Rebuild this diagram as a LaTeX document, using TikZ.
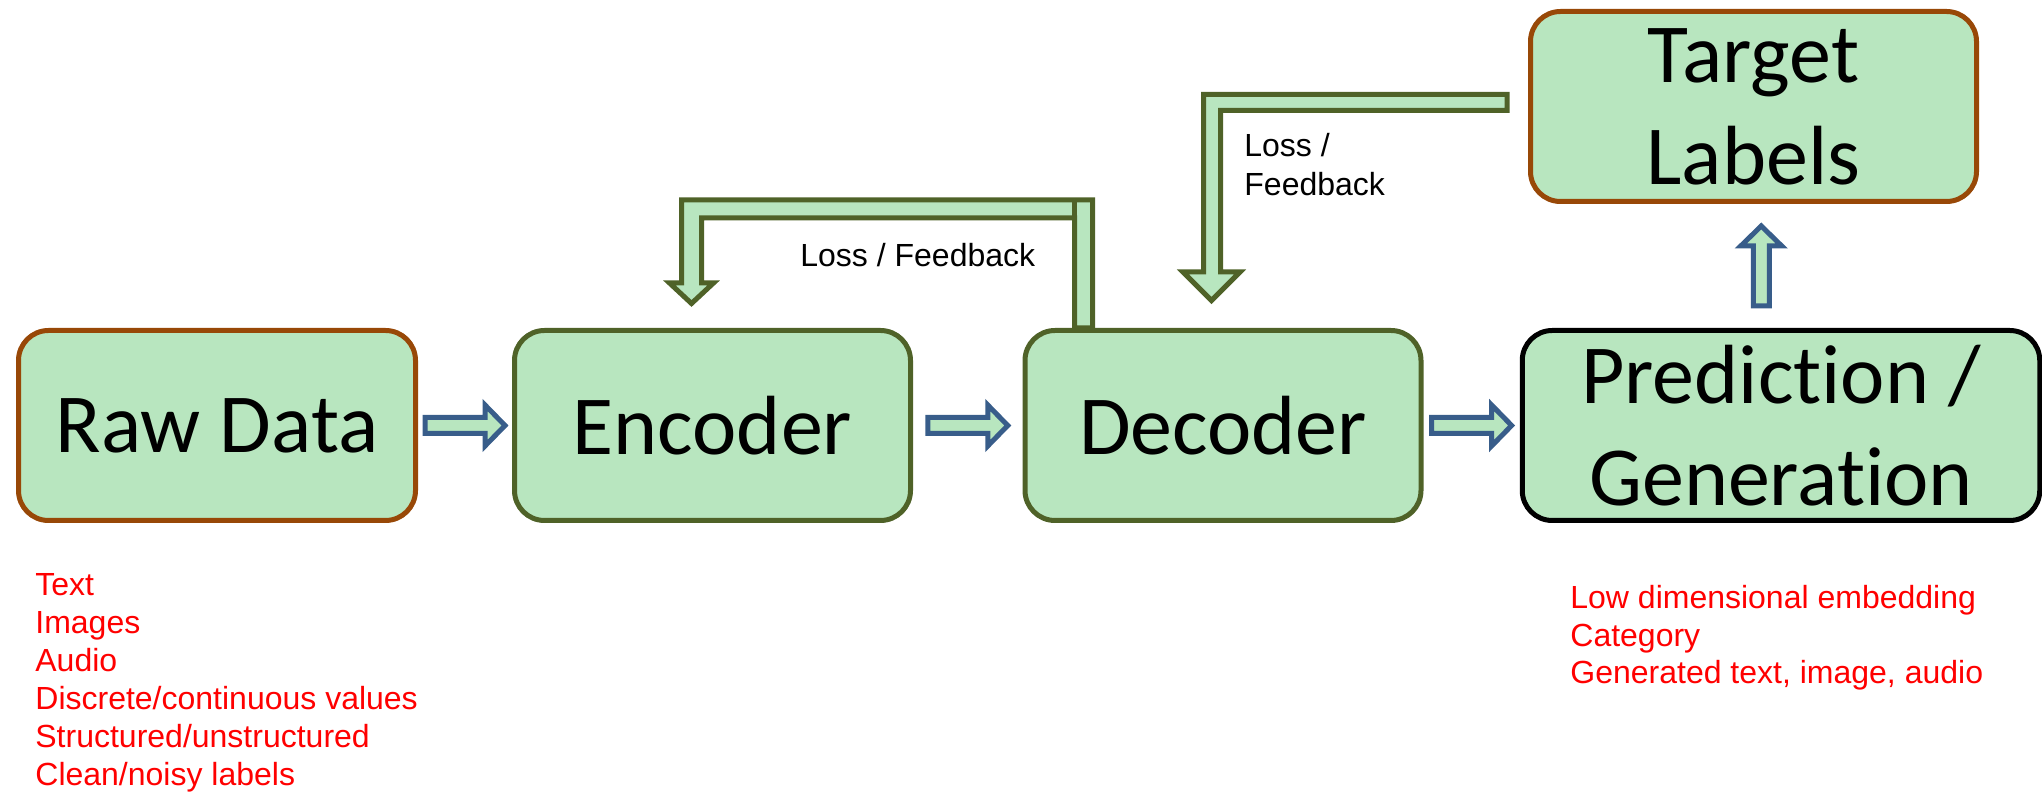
\documentclass[tikz,border=0pt]{standalone}
\usepackage{fontspec}
\setmainfont{Carlito}[Ligatures=NoCommon]
\newfontfamily\arialfont{Liberation Sans}
\usepackage{tikz}
\usetikzlibrary{positioning,calc}
\definecolor{boxgreen}{RGB}{184,230,191}
\definecolor{boxolive}{RGB}{79,98,40}
\definecolor{boxbrown}{RGB}{152,72,7}
\definecolor{arrowblue}{RGB}{56,93,138}
\newcommand*{\boxW}{198pt}
\newcommand*{\boxH}{95pt}
\newcommand*{\rowY}{425.5}
% keep t and i apart (no ligature)
\newcommand*{\ti}{t\kern0pt i}

\begin{document}
\begin{tikzpicture}[x=0.5pt, y=-0.5pt,
    box/.style={draw, line width=2.5pt, fill=boxgreen, rounded corners=15pt,
        minimum width=\boxW, minimum height=\boxH, inner sep=0pt, align=center,
        font=\fontsize{42}{51}\selectfont},
    fbarrow/.style={draw=boxolive, line width=2.5pt, fill=boxgreen, line join=miter},
    note/.style={font=\arialfont\fontsize{16}{19.5}\selectfont, align=left, inner sep=0pt, anchor=north west},
    redlist/.style={note, text=red},
    pics/rarrow/.style={code={
        \draw [draw=arrowblue, fill=boxgreen, line width=2.5pt]
            (-40,-8) -- (20,-8) -- (20,-20.5) -- (40,0) -- (20,20.5) -- (20,8) -- (-40,8) -- cycle;
    }}]
    \useasboundingbox (0,0) rectangle (2042,795);

    % main row
    \node [box, draw=boxbrown, minimum width=198.5pt] (raw) at (217,\rowY) {Raw Data};
    \node [box, draw=boxolive] (enc) at (712.5,\rowY) {Encoder};
    \node [box, draw=boxolive] (dec) at (1223,\rowY) {Decoder};
    \node [box, draw=black, minimum width=258.75pt] (pred) at (1781,\rowY) {Predic\ti on /\\Genera\ti on};
    \node [box, draw=boxbrown, minimum width=223pt] (tgt) at (1753.5,106.5) {Target\\Labels};

    % block arrows
    \pic at ($(raw.east)!0.5!(enc.west)$) {rarrow};
    \pic at ($(enc.east)!0.5!(dec.west)$) {rarrow};
    \pic at ($(dec.east)!0.5!(pred.west)$) {rarrow};
    \pic [rotate=90] at ($(tgt.south)!0.5!(pred.north)+(-6,0)$) {rarrow};

    % feedback decoder -> encoder
    \draw [fbarrow] ($(dec.north west)+(70,0)$) -- ++(0,-128)
        -| ($(enc.north)+(-31,-45)$) -- ++(-12,0) -- ($(enc.north)+(-21,-24.5)$)
        -- ($(enc.north)+(1,-45)$) -- ++(-12,0)
        |- ($(dec.north west)+(52,-110)$) -- ($(dec.north west)+(52,0)$) -- cycle;
    \draw [fbarrow] ($(dec.north west)+(52,-110)$) -- ++(0,-18);
    \node [note] (loss1) at (800,243) {Loss / Feedback};

    % feedback target -> decoder
    \draw [fbarrow] ($(tgt.west)+(-21,-12)$) -| ($(dec.north)+(-19.5,-56)$)
        -- ++(-20.5,0) -- ($(dec.north)+(-11.5,-27.5)$) -- ($(dec.north)+(17,-56)$)
        -- ($(dec.north)+(-2.5,-56)$) |- ($(tgt.west)+(-21,4)$) -- cycle;
    \node [note] (loss2) at (1244,133) {Loss /\\Feedback};

    % red notes
    \node [redlist, font=\arialfont\fontsize{16}{19}\selectfont] (inlist) at (35,573)
        {Text\\Images\\Audio\\Discrete/continuous values\\Structured/unstructured\\Clean/noisy labels};
    \node [redlist, font=\arialfont\fontsize{16}{18.75}\selectfont] (outlist) at (1570,585)
        {Low dimensional embedding\\Category\\Generated text, image, audio};
\end{tikzpicture}
\end{document}
